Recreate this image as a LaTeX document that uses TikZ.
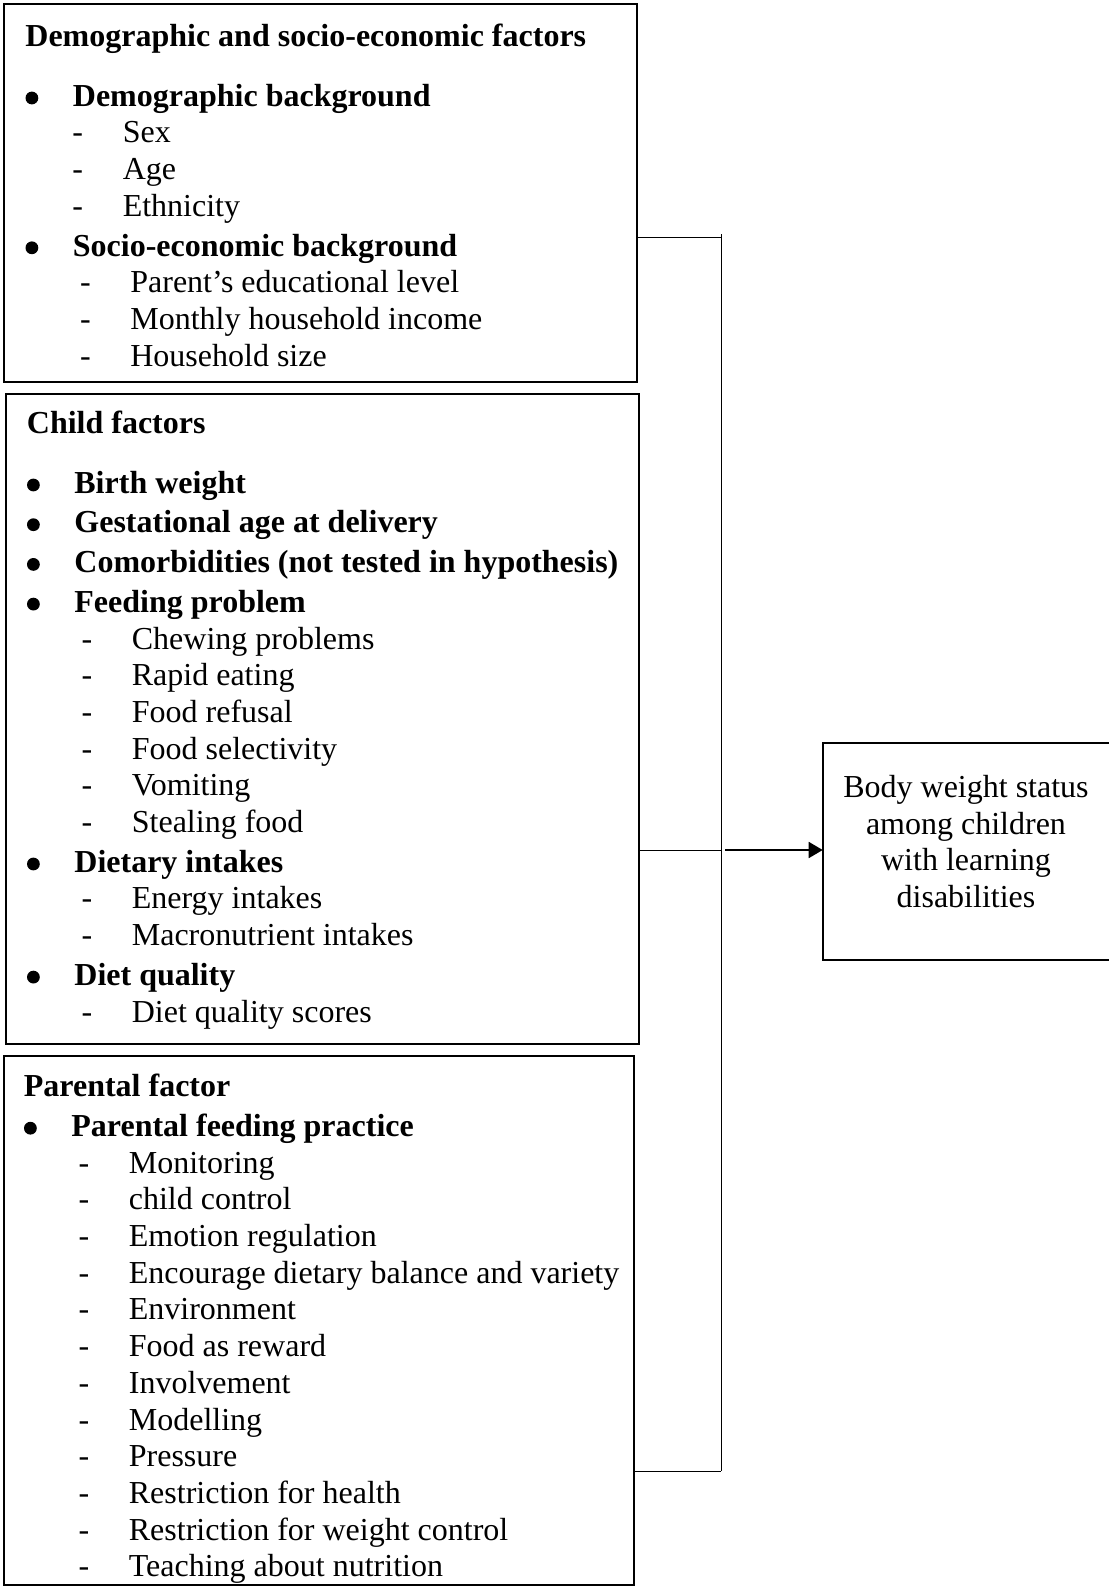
\documentclass[tikz,border=0pt]{standalone}
\usepackage{fontspec}
\setmainfont{Liberation Serif}
\usetikzlibrary{arrows.meta,positioning,calc}

\newcommand\dotmark{\raisebox{0.9pt}{\tikz\fill (0,0) circle (3.2pt);}}
\newcommand\ttl[1]{\hspace*{10.5pt}\textbf{#1}}
\newcommand\bul[1]{\hspace*{13.75pt}\makebox[0pt]{\dotmark}\hspace*{20.5pt}\textbf{#1}}
\newcommand\dsh[2][40.5pt]{\hspace*{#1}\makebox[0pt]{-}\hspace*{22.5pt}#2}

\begin{document}
\begin{tikzpicture}[x=0.5pt, y=-0.5pt,
    frame/.style={draw, line width=1pt, outer sep=0pt, inner sep=0pt, anchor=north west},
    list/.style={anchor=base west, inner sep=0pt, font=\fontsize{16pt}{18.35pt}\selectfont},
    link/.style={line width=0.5pt},
    arr/.style={-{Triangle[length=7pt,width=8pt]}, line width=0.9pt, shorten <=2pt}
]
\useasboundingbox (0,0) rectangle (1109,1586);

% frames
\node[frame, minimum width=316.5pt, minimum height=188.75pt] (demo) at (4,4) {};
\node[frame, minimum width=316.9pt, minimum height=325.35pt] (child) at (5.5,393.6) {};
\node[frame, minimum width=315.4pt, minimum height=264.05pt] (parent) at (3.5,1056.4) {};
\node[frame, minimum width=143.65pt, minimum height=108.65pt] (bws) at (822.7,742.7) {};

% lists
\node[list] (demoTxt) at (4,46.5) {\parbox[t]{300pt}{%
\ttl{Demographic and socio-economic factors}\\[11.5pt]
\bul{Demographic background}\\
\dsh[36.7pt]{Sex}\\
\dsh[36.7pt]{Age}\\
\dsh[36.7pt]{Ethnicity}\\[1.5pt]
\bul{Socio-economic background}\\
\dsh{Parent’s educational level}\\
\dsh{Monthly household income}\\
\dsh{Household size}}};

\node[list] (childTxt) at (5.5,433.5) {\parbox[t]{310pt}{%
\ttl{Child factors}\\[11.5pt]
\bul{Birth weight}\\[1.5pt]
\bul{Gestational age at delivery}\\[1.5pt]
\bul{Comorbidities (not tested in hypothesis)}\\[1.5pt]
\bul{Feeding problem}\\
\dsh{Chewing problems}\\
\dsh{Rapid eating}\\
\dsh{Food refusal}\\
\dsh{Food selectivity}\\
\dsh{Vomiting}\\
\dsh{Stealing food}\\[1.5pt]
\bul{Dietary intakes}\\
\dsh{Energy intakes}\\
\dsh{Macronutrient intakes}\\[1.5pt]
\bul{Diet quality}\\
\dsh{Diet quality scores}}};

\node[list] (parentTxt) at (2.5,1096.7) {\parbox[t]{310pt}{%
\ttl{Parental factor}\\[1.5pt]
\bul{Parental feeding practice}\\
\dsh{Monitoring}\\
\dsh{child control}\\
\dsh{Emotion regulation}\\
\dsh{Encourage dietary balance and variety}\\
\dsh{Environment}\\
\dsh{Food as reward}\\
\dsh{Involvement}\\
\dsh{Modelling}\\
\dsh{Pressure}\\
\dsh{Restriction for health}\\
\dsh{Restriction for weight control}\\
\dsh{Teaching about nutrition}}};

\node[list, anchor=base] (bwsTxt) at (966,797.5) {\parbox[t]{140pt}{\centering
Body weight status\\
among children\\
with learning\\
disabilities}};

% connectors
\coordinate (jt) at (721,237.3);
\coordinate (jn) at (721,850);
\coordinate (jb) at (721,1471);
\draw[link] ([yshift=1.5pt]jt) -- (jb);
\draw[link] (demo.east |- jt) -- (jt);
\draw[link] (child.east |- jn) -- (jn);
\draw[link] (parent.east |- jb) -- (jb);
\draw[arr] (jn) -- (bws.west |- jn);
\end{tikzpicture}
\end{document}
